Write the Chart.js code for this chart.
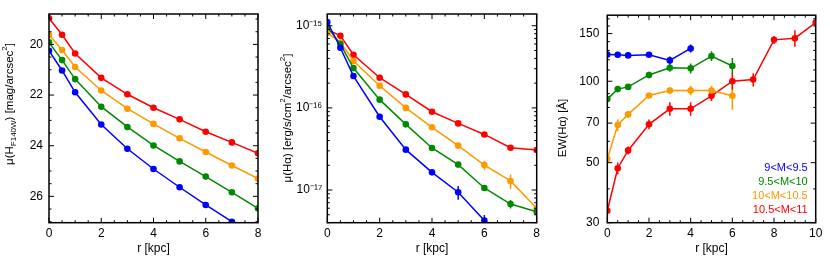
<!DOCTYPE html>
<html>
<head>
<meta charset="utf-8">
<script src="https://cdn.jsdelivr.net/npm/chart.js@4.4.1/dist/chart.umd.min.js"></script>
<style>
  body { margin: 0; background: #fff; width: 830px; height: 265px; position: relative; overflow: hidden; }
  canvas { position: absolute; top: 0; }
</style>
</head>
<body>
<canvas id="c1" width="277" height="265" style="left:0px"></canvas>
<canvas id="c2" width="276" height="265" style="left:277px"></canvas>
<canvas id="c3" width="277" height="265" style="left:553px"></canvas>
<script>
// radii (kpc)
var rProf = [0, 0.5, 1, 2, 3, 4, 5, 6, 7, 8];
var rEW = [0, 0.5, 1, 2, 3, 4, 5, 6, 7, 8, 9, 10];

// mass bins, in plotting order
var massBins = ['9<M<9.5', '9.5<M<10', '10<M<10.5', '10.5<M<11'];

// tick labels
var xTicks8 = [0, 2, 4, 6, 8];
var xTicks10 = [0, 2, 4, 6, 8, 10];
var yTicksMag = [20, 22, 24, 26];
var yTicksHa = [1e-15, 1e-16, 1e-17];
var yTicksEW = [30, 50, 70, 100, 150];

// panel 1: mu(H F140W) [mag/arcsec^2]
var muH_blue = [20.25, 21.03, 21.89, 23.16, 24.12, 24.92, 25.64, 26.34, 27.0];
var muH_green = [19.92, 20.62, 21.37, 22.46, 23.26, 23.99, 24.62, 25.22, 25.84, 26.47];
var muH_orange = [19.62, 20.22, 20.89, 21.82, 22.54, 23.14, 23.71, 24.25, 24.78, 25.30];
var muH_red = [18.97, 19.62, 20.36, 21.32, 21.97, 22.50, 22.96, 23.45, 23.87, 24.30];

// panel 2: mu(Halpha) [erg/s/cm^2/arcsec^2]
var muHa_blue = [1.11e-15, 5.4e-16, 2.44e-16, 7.8e-17, 3.1e-17, 1.64e-17, 9.4e-18, 4.25e-18];
var muHa_green = [9.7e-16, 5.98e-16, 3.05e-16, 1.26e-16, 6.3e-17, 3.25e-17, 2.04e-17, 1.06e-17, 6.75e-18, 5.45e-18];
var muHa_orange = [8.2e-16, 6.26e-16, 3.72e-16, 1.86e-16, 1.0e-16, 5.8e-17, 3.47e-17, 2.01e-17, 1.29e-17, 6.0e-18];
var muHa_red = [9.0e-16, 7.55e-16, 4.44e-16, 2.33e-16, 1.46e-16, 8.98e-17, 6.47e-17, 4.75e-17, 3.27e-17, 3.07e-17];

var muHaErr_blue = [5e-17, 2e-17, 8e-18, 3e-18, 1.2e-18, 8e-19, 1.8e-18, 7e-19];
var muHaErr_green = [3e-17, 2e-17, 1e-17, 4e-18, 2e-18, 1e-18, 8e-19, 8e-19, 8e-19, 5e-19];
var muHaErr_orange = [3e-17, 2e-17, 1e-17, 5e-18, 3e-18, 2e-18, 1.5e-18, 2.6e-18, 2.6e-18, 1e-18];
var muHaErr_red = [3e-17, 2e-17, 1.2e-17, 6e-18, 4e-18, 2.5e-18, 2e-18, 1.8e-18, 1.6e-18, 1.5e-18];

// panel 3: EW(Halpha) [A]
var ew_blue = [125.6, 125.3, 124.6, 125.3, 119.4, 132.2];
var ew_green = [85.9, 93.5, 95.3, 105.5, 112.2, 111.6, 123.9, 113.8];
var ew_orange = [51.6, 68.9, 75.4, 88.6, 92.4, 92.4, 92.4, 88.3];
var ew_red = [33.2, 47.7, 55.5, 69.3, 79.1, 79.1, 88.3, 100.0, 101.4, 142.2, 144.2, 164.8];

var ewErr_blue = [1.5, 1.5, 1.5, 1.5, 4, 4.5];
var ewErr_green = [1, 1.5, 1.5, 3, 3.8, 4.7, 5.2, 8];
var ewErr_orange = [1.5, 3.5, 2, 1.5, 2.6, 3.9, 3.9, 10];
var ewErr_red = [1, 2.4, 1.9, 2.9, 4.5, 4.5, 3.7, 7, 5.7, 4.8, 10, 2];

var colors = ['#0000ff', '#008a00', '#ff9900', '#ff0000'];
var family = '"Liberation Sans", Arial, Helvetica, sans-serif';

// minor tick positions
function steps(a, b, d, skip) {
    var out = [];
    for (var v = a; v <= b + 1e-9; v += d) {
        if (skip.indexOf(Math.round(v * 100) / 100) < 0) out.push(v);
    }
    return out;
}
var logMinorHa = [];
for (var n = -18; n <= -15; n++) {
    for (var k = 2; k <= 9; k++) logMinorHa.push(k * Math.pow(10, n));
}

// per-chart decorations (titles, minor ticks, legend)
var decoCfg = {
    c1: {
        xMinor: steps(0, 8, 0.5, xTicks8),
        yMinor: steps(19, 27, 0.5, yTicksMag),
        yTitle: [{ t: 'μ(H' }, { t: 'F140W', sub: true }, { t: ') [mag/arcsec' }, { t: '2', sup: true }, { t: ']' }],
        yTitleX: 10, yTitleY: 104
    },
    c2: {
        xMinor: steps(0, 8, 0.5, xTicks8),
        yMinor: logMinorHa,
        yTitle: [{ t: 'μ(Hα) [erg/s/cm' }, { t: '2', sup: true }, { t: '/arcsec' }, { t: '2', sup: true }, { t: ']' }],
        yTitleX: 11, yTitleY: 118
    },
    c3: {
        xMinor: steps(0, 10, 0.5, xTicks10),
        yMinor: [40, 60, 80, 90, 110, 120, 130, 140, 160, 170],
        yTitle: [{ t: 'EW(Hα) [Å]' }],
        yTitleX: 10, yTitleY: 128,
        legend: true
    }
};

function drawRich(ctx, segs, cx, cy) {
    var fontMain = '11.5px ' + family, fontSmall = '8px ' + family;
    ctx.save();
    ctx.translate(cx, cy);
    ctx.rotate(-Math.PI / 2);
    var total = 0;
    segs.forEach(function (s) {
        ctx.font = (s.sub || s.sup) ? fontSmall : fontMain;
        total += ctx.measureText(s.t).width;
    });
    var x = -total / 2;
    ctx.textAlign = 'left';
    ctx.textBaseline = 'middle';
    segs.forEach(function (s) {
        ctx.font = (s.sub || s.sup) ? fontSmall : fontMain;
        var dy = s.sub ? 3.5 : (s.sup ? -5 : 0);
        ctx.fillText(s.t, x, dy);
        x += ctx.measureText(s.t).width;
    });
    ctx.restore();
}

var deco = {
    id: 'deco',
    beforeDatasetsDraw: function (chart) {
        var ctx = chart.ctx, a = chart.chartArea, ys = chart.scales.y;
        ctx.save();
        ctx.beginPath();
        ctx.rect(a.left, a.top, a.right - a.left, a.bottom - a.top);
        ctx.clip();
        ctx.lineWidth = 1.5;
        chart.data.datasets.forEach(function (ds, i) {
            if (!ds.err) return;
            var meta = chart.getDatasetMeta(i);
            ctx.strokeStyle = ds.borderColor;
            ds.data.forEach(function (p, j) {
                var e = ds.err[j];
                if (!e) return;
                var px = meta.data[j].x;
                ctx.beginPath();
                ctx.moveTo(px, ys.getPixelForValue(p.y - e));
                ctx.lineTo(px, ys.getPixelForValue(p.y + e));
                ctx.stroke();
            });
        });
        ctx.restore();
    },
    afterDraw: function (chart) {
        var o = decoCfg[chart.canvas.id];
        var ctx = chart.ctx, a = chart.chartArea, xs = chart.scales.x, ys = chart.scales.y;
        ctx.save();
        ctx.strokeStyle = '#000';
        ctx.lineWidth = 1;
        function seg(x1, y1, x2, y2) {
            ctx.beginPath(); ctx.moveTo(x1, y1); ctx.lineTo(x2, y2); ctx.stroke();
        }
        function xt(v, len) {
            var p = xs.getPixelForValue(v);
            if (p < a.left - 0.5 || p > a.right + 0.5) return;
            seg(p, a.bottom, p, a.bottom - len);
            seg(p, a.top, p, a.top + len);
        }
        function yt(v, len) {
            var p = ys.getPixelForValue(v);
            if (p < a.top - 0.5 || p > a.bottom + 0.5) return;
            seg(a.left, p, a.left + len, p);
            seg(a.right, p, a.right - len, p);
        }
        xs.ticks.forEach(function (t) { xt(t.value, 5); });
        ys.ticks.forEach(function (t) { yt(t.value, 5); });
        o.xMinor.forEach(function (v) { xt(v, 2.5); });
        o.yMinor.forEach(function (v) { yt(v, 2.5); });
        ctx.lineWidth = 1.5;
        ctx.strokeRect(a.left, a.top, a.right - a.left, a.bottom - a.top);

        ctx.fillStyle = '#000';
        ctx.font = '12px ' + family;
        ctx.textAlign = 'center';
        ctx.textBaseline = 'middle';
        ctx.fillText('r [kpc]', (a.left + a.right) / 2, 249);
        drawRich(ctx, o.yTitle, o.yTitleX, o.yTitleY);

        if (o.legend) {
            ctx.font = '11px ' + family;
            ctx.textAlign = 'right';
            chart.data.datasets.forEach(function (ds, i) {
                ctx.fillStyle = ds.borderColor;
                ctx.fillText(ds.label, a.right - 8, 168 + i * 14);
            });
        }
        ctx.restore();
    }
};
Chart.register(deco);

function series(xs, ys, errs, i) {
    return {
        label: massBins[i],
        data: ys.map(function (y, j) { return { x: xs[j], y: y }; }),
        err: errs,
        borderColor: colors[i],
        backgroundColor: colors[i],
        borderWidth: 1.5,
        pointRadius: 3.3,
        pointBorderWidth: 0,
        pointHoverRadius: 3.3,
        tension: 0,
        clip: 0
    };
}

function xAxis(max, ticks) {
    return {
        type: 'linear', min: 0, max: max,
        afterBuildTicks: function (s) { s.ticks = ticks.map(function (v) { return { value: v }; }); },
        afterFit: function (s) { s.height = 42.3; },
        grid: { display: false, drawTicks: false },
        border: { display: false },
        ticks: { padding: 4, color: '#000', font: { family: family, size: 12 }, maxRotation: 0, autoSkip: false }
    };
}

function yAxis(type, min, max, ticks, width, pad, reverse, fmt) {
    return {
        type: type, min: min, max: max, reverse: reverse,
        afterBuildTicks: function (s) { s.ticks = ticks.map(function (v) { return { value: v }; }); },
        afterFit: function (s) { s.width = width; },
        grid: { display: false, drawTicks: false },
        border: { display: false },
        ticks: { padding: pad, color: '#000', font: { family: family, size: 12 }, autoSkip: false, callback: fmt }
    };
}

function supExp(v) {
    var map = { '-': '⁻', '0': '⁰', '1': '¹', '2': '²', '3': '³', '4': '⁴', '5': '⁵', '6': '⁶', '7': '⁷', '8': '⁸', '9': '⁹' };
    var e = String(Math.round(Math.log10(v)));
    return '10' + e.split('').map(function (c) { return map[c]; }).join('');
}

function baseOptions(padRight, scales) {
    return {
        responsive: false,
        animation: false,
        devicePixelRatio: 1,
        layout: { padding: { left: 0, right: padRight, top: 14, bottom: 0 } },
        plugins: { legend: { display: false }, tooltip: { enabled: false } },
        events: [],
        scales: scales
    };
}

new Chart(document.getElementById('c1').getContext('2d'), {
    type: 'line',
    data: {
        datasets: [
            series(rProf, muH_blue, null, 0),
            series(rProf, muH_green, null, 1),
            series(rProf, muH_orange, null, 2),
            series(rProf, muH_red, null, 3)
        ]
    },
    options: baseOptions(19, {
        x: xAxis(8, xTicks8),
        y: yAxis('linear', 18.8, 27.04, yTicksMag, 49, 6, true, function (v) { return String(v); })
    })
});

new Chart(document.getElementById('c2').getContext('2d'), {
    type: 'line',
    data: {
        datasets: [
            series(rProf, muHa_blue, muHaErr_blue, 0),
            series(rProf, muHa_green, muHaErr_green, 1),
            series(rProf, muHa_orange, muHaErr_orange, 2),
            series(rProf, muHa_red, muHaErr_red, 3)
        ]
    },
    options: baseOptions(16.3, {
        x: xAxis(8, xTicks8),
        y: yAxis('logarithmic', 4.0e-18, 1.39e-15, yTicksHa, 50.3, 5, false, supExp)
    })
});

new Chart(document.getElementById('c3').getContext('2d'), {
    type: 'line',
    data: {
        datasets: [
            series(rEW, ew_blue, ewErr_blue, 0),
            series(rEW, ew_green, ewErr_green, 1),
            series(rEW, ew_orange, ewErr_orange, 2),
            series(rEW, ew_red, ewErr_red, 3)
        ]
    },
    options: baseOptions(14.3, {
        x: xAxis(10, xTicks10),
        y: yAxis('logarithmic', 30, 175.4, yTicksEW, 54.3, 8, false, function (v) { return String(v); })
    })
});
</script>
</body>
</html>
